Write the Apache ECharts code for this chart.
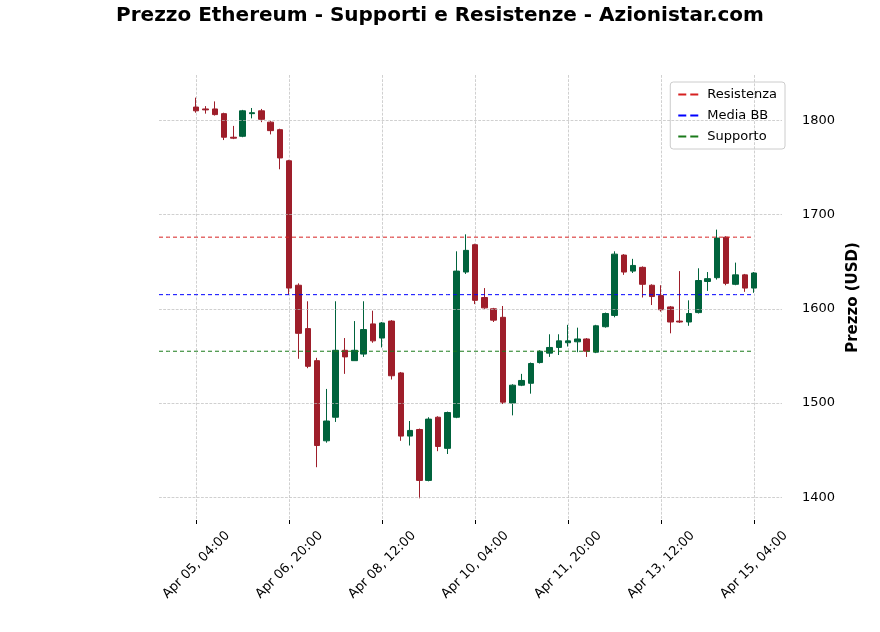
<!DOCTYPE html>
<html>
<head>
<meta charset="utf-8">
<script src="https://cdn.jsdelivr.net/npm/echarts@6/dist/echarts.min.js"></script>
</head>
<body style="margin:0">
<div id="main" style="width:880px;height:632px;"></div>
<script>
// OHLC ogni 4 ore, dal 5 aprile 04:00
var opens  = [1814,1812,1812,1807,1782,1783,1807,1810,1798,1790,1757,1625,1579,1545,1460,1485,1556,1545,1552,1584,
              1569,1587,1532,1465,1472,1418,1485,1452,1485,1639,1668,1612,1600,1591,1500,1519,1521,1543,1553,1559,
              1564,1565,1568,1554,1581,1593,1657,1640,1644,1625,1614,1602,1587,1586,1596,1629,1633,1676,1626,1636,1622];
var closes = [1810,1811,1806,1782,1781,1810,1808,1801,1789,1760,1622,1574,1539,1455,1481,1556,1549,1556,1578,1566,
              1585,1529,1465,1471,1418,1483,1454,1490,1640,1662,1609,1601,1588,1501,1519,1524,1542,1555,1559,1566,
              1566,1568,1555,1582,1595,1658,1639,1646,1626,1613,1599,1586,1586,1595,1630,1632,1675,1627,1636,1622,1638];
var highs  = [1824,1815,1820,1808,1794,1811,1813,1812,1799,1791,1758,1627,1608,1548,1515,1608,1569,1587,1608,1598,
              1586,1588,1533,1481,1473,1485,1486,1491,1661,1679,1669,1622,1601,1603,1520,1531,1543,1556,1573,1573,
              1583,1580,1569,1583,1596,1661,1658,1653,1645,1626,1625,1603,1640,1609,1643,1639,1684,1677,1649,1637,1639];
var lows   = [1808,1807,1805,1779,1780,1782,1802,1798,1785,1748,1615,1547,1537,1432,1458,1480,1531,1545,1549,1564,
              1559,1525,1460,1455,1399,1417,1449,1446,1484,1637,1605,1600,1586,1499,1487,1518,1510,1542,1549,1551,
              1560,1554,1549,1553,1580,1591,1636,1638,1612,1604,1597,1574,1585,1582,1595,1619,1631,1625,1625,1618,1617];
var resistenza = 1676;
var mediaBB = 1615;
var supporto = 1555;
var yTicks = [1400, 1500, 1600, 1700, 1800];
var padLeft = 4, padRight = 3;

var mesi = ['Jan','Feb','Mar','Apr'];
var pad = function (n) { return (n < 10 ? '0' : '') + n; };
var categories = [];
var ohlc = [];
for (var i = -padLeft; i < opens.length + padRight; i++) {
    var d = new Date(Date.UTC(2023, 3, 5, 4) + i * 4 * 3600 * 1000);
    categories.push(mesi[d.getUTCMonth()] + ' ' + pad(d.getUTCDate()) + ', ' + pad(d.getUTCHours()) + ':00');
    ohlc.push(i >= 0 && i < opens.length ? [opens[i], closes[i], lows[i], highs[i]] : '-');
}
var showTick = function (idx) {
    var k = idx - padLeft;
    return k >= 0 && k < opens.length && k % 10 === 0;
};

var myChart = echarts.init(document.getElementById('main'));
var hline = function (name, val, color) {
    return {
        name: name, type: 'line',
        data: categories.map(function (c, idx) { return idx < padLeft + opens.length ? val : null; }),
        symbol: 'none', itemStyle: {color: color},
        lineStyle: {color: color, type: [4, 3], width: 1}, z: 3, silent: true
    };
};
var option = {
    animation: false,
    textStyle: {fontFamily: 'DejaVu Sans'},
    title: {
        text: 'Prezzo Ethereum - Supporti e Resistenze - Azionistar.com',
        left: 'center', top: 1,
        textStyle: {fontSize: 20, fontWeight: 'bold', color: '#000'}
    },
    legend: {
        right: 95, top: 82, orient: 'vertical', itemWidth: 28, itemHeight: 2, itemGap: 8,
        borderColor: '#ccc', borderWidth: 1, borderRadius: 3, padding: [6, 8],
        textStyle: {fontSize: 13, color: '#000'},
        data: [
            {name: 'Resistenza', icon: 'path://M0,0h8v2h-8zM12,0h8v2h-8z'},
            {name: 'Media BB', icon: 'path://M0,0h8v2h-8zM12,0h8v2h-8z'},
            {name: 'Supporto', icon: 'path://M0,0h8v2h-8zM12,0h8v2h-8z'}
        ]
    },
    grid: {left: 159, right: 98, top: 75, bottom: 112},
    xAxis: {
        type: 'category', data: categories, boundaryGap: false,
        axisLine: {show: false},
        axisTick: {show: true, interval: function (idx) { return showTick(idx); }, length: 4, lineStyle: {color: '#000'}},
        axisLabel: {
            interval: function (idx) { return showTick(idx); }, rotate: 45, fontSize: 13, color: '#000',
            margin: 45, align: 'center', verticalAlign: 'middle'
        },
        splitLine: {show: true, interval: function (idx) { return showTick(idx); }, lineStyle: {color: '#bbb', type: 'dashed', width: 0.7}}
    },
    yAxis: {
        type: 'value', position: 'right', min: 1376, max: 1848, interval: 4,
        name: 'Prezzo (USD)', nameLocation: 'middle', nameGap: 52, nameRotate: 90,
        nameTextStyle: {fontSize: 15, fontWeight: 'bold', color: '#000'},
        axisLine: {show: false}, axisTick: {show: false}, splitLine: {show: false},
        axisLabel: {
            fontSize: 13, color: '#000', margin: 20,
            formatter: function (v) { return yTicks.indexOf(v) >= 0 ? String(v) : ''; }
        }
    },
    series: [
        {
            type: 'candlestick', data: ohlc, barWidth: 6,
            itemStyle: {color: '#00633c', color0: '#9e1e2a', borderColor: '#00633c', borderColor0: '#9e1e2a', borderWidth: 1},
            markLine: {
                silent: true, symbol: 'none', label: {show: false},
                lineStyle: {color: '#bbb', type: 'dashed', width: 0.7},
                data: yTicks.map(function (v) { return {yAxis: v}; })
            }
        },
        hline('Resistenza', resistenza, '#d62020'),
        hline('Media BB', mediaBB, '#0000ff'),
        hline('Supporto', supporto, '#1a7a1a')
    ]
};
myChart.setOption(option);
</script>
</body>
</html>
